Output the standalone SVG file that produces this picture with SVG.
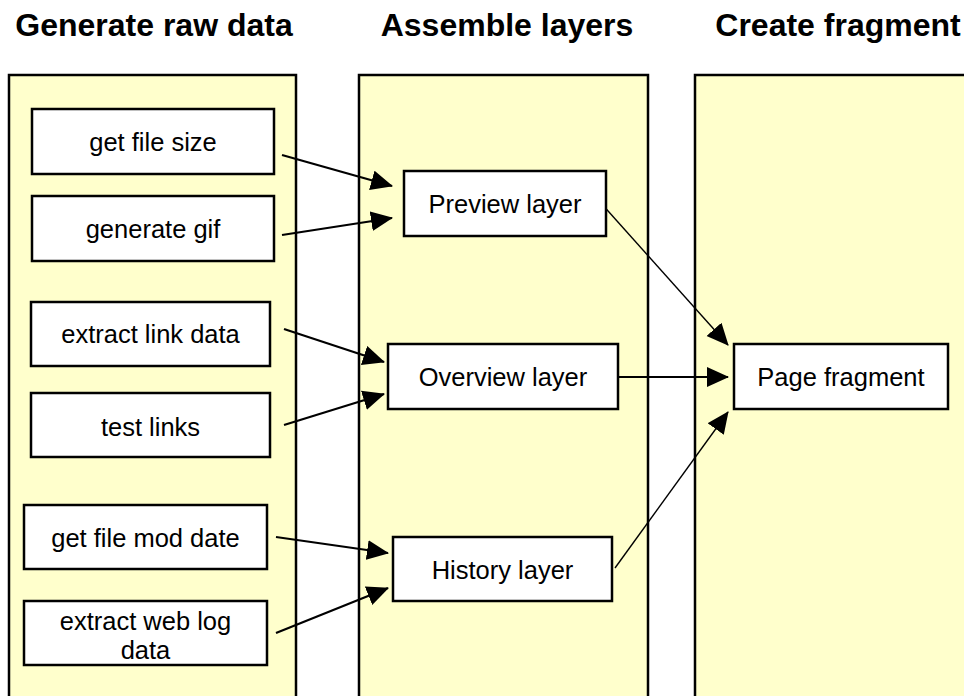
<svg xmlns="http://www.w3.org/2000/svg" width="964" height="696" viewBox="0 0 964 696">
<style>
.col{fill:#FFFFCC;stroke:#000;stroke-width:2.5}
.box{fill:#fff;stroke:#000;stroke-width:2.5}
.hdr{font-family:"Liberation Sans",Arial,sans-serif;font-weight:bold;font-size:32px;text-anchor:middle;fill:#000}
.lbl{font-family:"Liberation Sans",Arial,sans-serif;font-size:25.5px;text-anchor:middle;fill:#000}
.c{stroke:#000;stroke-width:2.2;fill:none;marker-end:url(#ah)}
.t{stroke:#000;stroke-width:1.4;fill:none;marker-end:url(#ah)}
</style>
<defs>
<marker id="ah" markerUnits="userSpaceOnUse" markerWidth="24" markerHeight="22" refX="21" refY="10" orient="auto">
<path d="M0,0 L22,10 L0,20 Z" fill="#000"/>
</marker>
</defs>
<rect width="964" height="696" fill="#fff"/>
<g id="lane-generate">
<rect class="col" x="9" y="75" width="287" height="640"/>
<text class="hdr" x="154" y="36">Generate raw data</text>
</g>
<g id="lane-assemble">
<rect class="col" x="359" y="75" width="289" height="640"/>
<text class="hdr" x="507" y="36">Assemble layers</text>
</g>
<g id="lane-create">
<rect class="col" x="695" y="75" width="290" height="640"/>
<text class="hdr" x="838" y="36">Create fragment</text>
</g>
<g id="connectors">
<line class="c" x1="282" y1="155" x2="392" y2="186"/>
<line class="c" x1="282" y1="235" x2="392" y2="218"/>
<line class="c" x1="284" y1="329" x2="384" y2="362"/>
<line class="c" x1="284" y1="425" x2="384" y2="394"/>
<line class="c" x1="276" y1="537" x2="388" y2="553"/>
<line class="c" x1="276" y1="633" x2="388" y2="588"/>
<line class="t" x1="600" y1="202" x2="728" y2="345"/>
<line class="c" x1="615" y1="377" x2="728" y2="377"/>
<line class="t" x1="615" y1="568" x2="728" y2="412"/>
</g>
<g id="get-file-size"><rect class="box" x="32" y="109" width="242" height="65"/><text class="lbl" x="153" y="151">get file size</text></g>
<g id="generate-gif"><rect class="box" x="32" y="196" width="242" height="65"/><text class="lbl" x="153" y="238">generate gif</text></g>
<g id="extract-link-data"><rect class="box" x="31" y="302" width="239" height="64"/><text class="lbl" x="150.5" y="343">extract link data</text></g>
<g id="test-links"><rect class="box" x="31" y="393" width="239" height="64"/><text class="lbl" x="150.5" y="436">test links</text></g>
<g id="get-file-mod-date"><rect class="box" x="24" y="505" width="243" height="64"/><text class="lbl" x="145.5" y="547">get file mod date</text></g>
<g id="extract-web-log-data"><rect class="box" x="24" y="601" width="243" height="64"/><text class="lbl" x="145.5" y="630">extract web log</text><text class="lbl" x="145.5" y="659">data</text></g>
<g id="preview-layer"><rect class="box" x="404" y="171" width="202" height="65"/><text class="lbl" x="505" y="213">Preview layer</text></g>
<g id="overview-layer"><rect class="box" x="388" y="344" width="230" height="65"/><text class="lbl" x="503" y="386">Overview layer</text></g>
<g id="history-layer"><rect class="box" x="393" y="537" width="219" height="64"/><text class="lbl" x="502.5" y="579">History layer</text></g>
<g id="page-fragment"><rect class="box" x="734" y="344" width="214" height="65"/><text class="lbl" x="841" y="386">Page fragment</text></g>
</svg>
